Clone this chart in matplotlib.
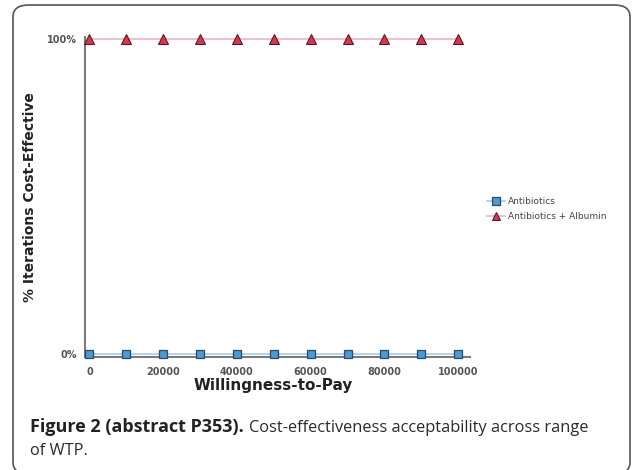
import matplotlib
matplotlib.use('Agg')
import matplotlib.pyplot as plt
from matplotlib.patches import FancyBboxPatch

# willingness-to-pay thresholds and probability cost-effective (%)
wtp = [0, 10000, 20000, 30000, 40000, 50000, 60000, 70000, 80000, 90000, 100000]
antibiotics = [0, 0, 0, 0, 0, 0, 0, 0, 0, 0, 0]
antibiotics_albumin = [100, 100, 100, 100, 100, 100, 100, 100, 100, 100, 100]
x_ticks = [0, 20000, 40000, 60000, 80000, 100000]
y_ticks = [0, 100]
y_tick_labels = ['0%', '100%']

W, H = 633, 470
fig = plt.figure(figsize=(W / 100, H / 100), dpi=100)

# rounded frame around the figure panel
frame = FancyBboxPatch((13 / W, -4 / H), 617 / W, 469 / H,
                       boxstyle='round,pad=0,rounding_size=0.025',
                       transform=fig.transFigure, fill=False,
                       edgecolor='#555555', linewidth=1.2, clip_on=False)
fig.patches.append(frame)

ax = fig.add_axes([85 / W, 1 - 357 / H, 385 / W, 320 / H])

ax.plot(wtp, antibiotics, color='#a9cbe6', linewidth=1.2, marker='s',
        markersize=6, markerfacecolor='#4a9ad6', markeredgecolor='#2a4a66',
        markeredgewidth=0.9, label='Antibiotics', clip_on=False, zorder=3)
ax.plot(wtp, antibiotics_albumin, color='#efb3c3', linewidth=1.2, marker='^',
        markersize=7, markerfacecolor='#d23a52', markeredgecolor='#5a1a22',
        markeredgewidth=0.8, label='Antibiotics + Albumin', clip_on=False, zorder=3)

ax.set_xlim(-1200, 103200)
ax.set_ylim(-1, 100.5)
ax.set_xticks(x_ticks)
ax.set_yticks(y_ticks)
ax.set_yticklabels(y_tick_labels)
ax.tick_params(axis='both', labelsize=7, colors='#444444', length=0)
ax.tick_params(axis='x', pad=7)
ax.tick_params(axis='y', pad=6)
for lab in ax.get_xticklabels() + ax.get_yticklabels():
    lab.set_fontweight('bold')
    lab.set_color('#555555')

for side in ['top', 'right']:
    ax.spines[side].set_visible(False)
for side in ['left', 'bottom']:
    ax.spines[side].set_color('#7a7a7a')
    ax.spines[side].set_linewidth(1.5)

ax.set_xlabel('Willingness-to-Pay', fontsize=11, fontweight='bold',
              color='#222222', labelpad=0)
ax.xaxis.set_label_coords(0.49, -0.065)
ax.set_ylabel('% Iterations Cost-Effective', fontsize=10, fontweight='bold',
              color='#222222')
ax.yaxis.set_label_coords(-0.125, 0.5)

ax.legend(loc='center left', bbox_to_anchor=(487 / W, 1 - 209 / H),
          bbox_transform=fig.transFigure, frameon=False, fontsize=6.5,
          handlelength=2.0, handletextpad=0.3, labelspacing=0.6,
          labelcolor='#444444', borderaxespad=0, borderpad=0, markerscale=0.9)

# caption: bold lead-in followed by plain text
cap_font = ['Open Sans', 'DejaVu Sans']
bold = fig.text(30 / W, 1 - 432 / H, 'Figure 2 (abstract P353).', fontsize=13,
                fontweight='bold', family=cap_font, color='#222222', va='baseline')
r = fig.canvas.get_renderer()
bb = bold.get_window_extent(renderer=r)
fig.text((bb.x1 + 5) / W, 1 - 432 / H,
         'Cost-effectiveness acceptability across range', fontsize=11.8,
         family=cap_font, color='#2a2a2a', va='baseline')
fig.text(30 / W, 1 - 455 / H, 'of WTP.', fontsize=11.8, family=cap_font,
         color='#2a2a2a', va='baseline')

fig.savefig('out.png', dpi=100)
